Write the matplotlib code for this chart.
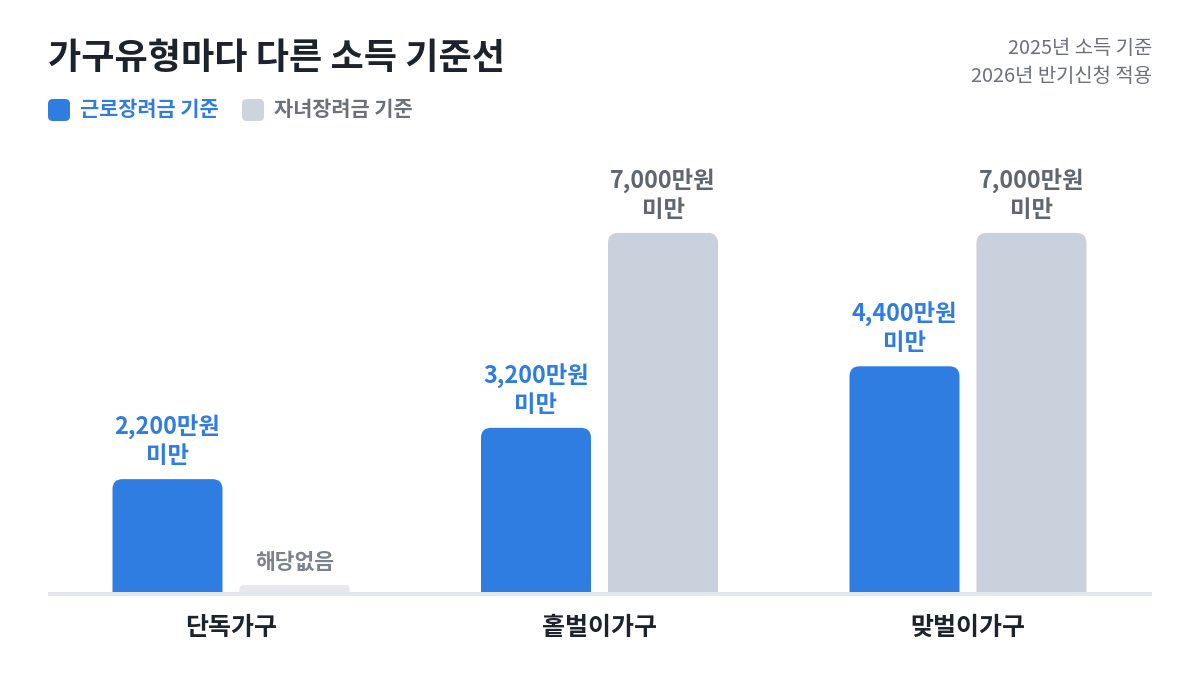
import numpy as np
import matplotlib
matplotlib.use("Agg")
import matplotlib.pyplot as plt
from matplotlib.patches import FancyBboxPatch, Rectangle

plt.rcParams['font.family'] = ['Noto Sans CJK KR', 'DejaVu Sans']

# data (만원)
households = ['단독가구', '홑벌이가구', '맞벌이가구']
work_credit = [2200, 3200, 4400]      # 근로장려금 기준
child_credit = [None, 7000, 7000]     # 자녀장려금 기준 (단독가구: 해당없음)
series_names = ['근로장려금 기준', '자녀장려금 기준']

BLUE = '#2f7de1'
GRAY = '#c9d1dc'
EMPTY = '#e6e9ee'
BASE = '#e3e7ee'
DARK = '#1d232c'
SUB = '#6b7079'
LBL_GRAY = '#5f6670'

W, H = 1200, 674
fig = plt.figure(figsize=(W / 100, H / 100), dpi=100)
fig.patch.set_facecolor('white')

# axes geometry (pixels)
px_per_unit = 0.0513       # px per 만원
base_px = 592              # baseline y from top
ymin, ymax = -250, 8600
x_left, x_right = 48, 1152
ax_bottom = base_px - ymin * px_per_unit
ax_top = base_px - ymax * px_per_unit
ax = fig.add_axes([x_left / W, (H - ax_bottom) / H,
                   (x_right - x_left) / W, (ax_bottom - ax_top) / H])
group_px = 368.5
first_center = 231
ax.set_xlim(-(first_center - x_left) / group_px, (x_right - first_center) / group_px)
ax.set_ylim(ymin, ymax)
ax.axis('off')

xu = 1 / group_px              # x units per px
yu = 1 / px_per_unit           # y units per px
bar_w = 110 * xu
offset = 63.5 * xu
radius = 10 * xu
aspect = yu / xu


def top_round_bar(x0, h, color, r=radius):
    extra = r * aspect
    p = FancyBboxPatch((x0, -extra), bar_w, h + extra,
                       boxstyle=f"round,pad=0,rounding_size={r}",
                       mutation_aspect=aspect, fc=color, ec='none', zorder=2)
    ax.add_patch(p)
    clip = Rectangle((x0 - bar_w, 0), bar_w * 3, h * 2 + 1000,
                     transform=ax.transData, visible=False)
    ax.add_patch(clip)
    p.set_clip_path(clip)


x = np.arange(len(households))
for i in x:
    bx = i - offset - bar_w / 2
    top_round_bar(bx, work_credit[i], BLUE)
    ax.annotate(f"{work_credit[i]:,}만원\n미만", (i - offset, work_credit[i]),
                xytext=(0, 8), textcoords='offset points', ha='center', va='bottom',
                color=BLUE, fontsize=16.8, fontweight='bold', linespacing=1.2)

    gx = i + offset - bar_w / 2
    if child_credit[i] is None:
        ph = 7 * yu
        top_round_bar(gx, ph, EMPTY, r=4 * xu)
        ax.annotate("해당없음", (i + offset, ph), xytext=(0, 9),
                    textcoords='offset points', ha='center', va='bottom',
                    color='#7b828c', fontsize=15.5, fontweight='bold')
    else:
        top_round_bar(gx, child_credit[i], GRAY)
        ax.annotate(f"{child_credit[i]:,}만원\n미만", (i + offset, child_credit[i]),
                    xytext=(0, 8), textcoords='offset points', ha='center', va='bottom',
                    color=LBL_GRAY, fontsize=16.8, fontweight='bold', linespacing=1.2)

    ax.annotate(households[i], (i, 0), xytext=(0, -26), textcoords='offset points',
                ha='center', va='center', color=DARK, fontsize=18, fontweight='bold')

ax.axhline(-2 * yu, color=BASE, lw=2.9, zorder=3)

# title and notes
fig.text(48 / W, 1 - 58 / H, '가구유형마다 다른 소득 기준선', fontsize=26,
         fontweight='bold', color=DARK, ha='left', va='center')
fig.text(1152 / W, 1 - 48 / H, '2025년 소득 기준', fontsize=14.3,
         color=SUB, ha='right', va='center')
fig.text(1152 / W, 1 - 77 / H, '2026년 반기신청 적용', fontsize=14.3,
         color=SUB, ha='right', va='center')

# legend
for sx, col, tcol, name in [(48, BLUE, BLUE, series_names[0]),
                            (242, '#cdd4de', SUB, series_names[1])]:
    sq = FancyBboxPatch((sx / W, 1 - 121 / H), 22 / W, 22 / H,
                        boxstyle="round,pad=0,rounding_size=0.004",
                        mutation_aspect=W / H, transform=fig.transFigure,
                        fc=col, ec='none')
    fig.patches.append(sq)
    fig.text((sx + 32) / W, 1 - 110 / H, name, fontsize=15, fontweight='bold',
             color=tcol, ha='left', va='center')

fig.savefig('out.png', dpi=100, facecolor='white')
